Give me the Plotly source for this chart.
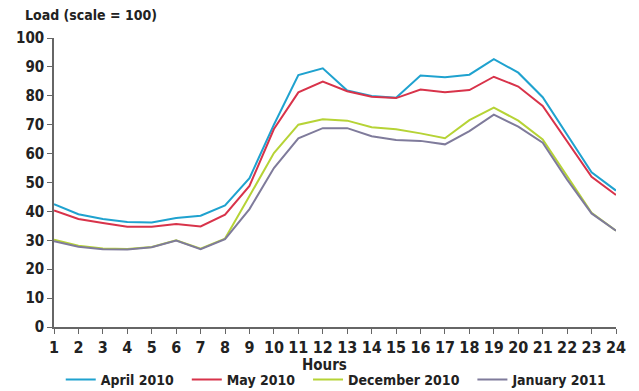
import plotly.graph_objects as go

hours = list(range(1, 25))
april_2010 = [42.5, 39, 37.4, 36.3, 36.2, 37.7, 38.5, 42.1, 51.5, 70, 87.2, 89.5,
              81.8, 79.9, 79.3, 87, 86.4, 87.3, 92.7, 88, 79.5, 66.4, 53.5, 47.2]
may_2010 = [40.3, 37.4, 36, 34.7, 34.7, 35.6, 34.8, 38.9, 48.8, 68.5, 81.2, 84.9,
            81.6, 79.7, 79.2, 82.2, 81.2, 82, 86.6, 83.2, 76.5, 64.1, 52, 45.7]
december_2010 = [30.2, 28.1, 27.2, 27, 27.7, 30, 27.1, 30.6, 45.3, 60.2, 70, 71.9,
                 71.4, 69.1, 68.4, 67, 65.3, 71.6, 75.9, 71.4, 64.9, 52, 39.5, 33.3]
january_2011 = [29.7, 27.8, 26.9, 26.8, 27.6, 29.9, 26.9, 30.4, 40.8, 55, 65.3, 68.8,
                68.8, 66, 64.7, 64.4, 63.2, 67.8, 73.5, 69.3, 63.8, 51, 39.3, 33.3]

series = [
    ("April 2010", april_2010, "#1fa2cf"),
    ("May 2010", may_2010, "#d8334a"),
    ("December 2010", december_2010, "#b6d336"),
    ("January 2011", january_2011, "#7f7b9b"),
]

font_family = "DejaVu Sans Condensed, Liberation Sans Narrow, Arial Narrow, sans-serif"

fig = go.Figure()
for name, vals, color in series:
    fig.add_trace(go.Scatter(x=hours, y=vals, mode="lines",
                             name=f"<b>{name}</b>\u00a0\u00a0",
                             line=dict(color=color, width=2)))

# page has an 8px body margin, so the figure is offset by 8px
fig.update_layout(
    width=631, height=383,
    margin=dict(l=46, r=23, t=30, b=64, autoexpand=False),
    paper_bgcolor="white", plot_bgcolor="white",
    font=dict(family=font_family, size=15, color="#222222"),
    showlegend=True,
    legend=dict(orientation="h", x=0.012, xanchor="left", y=-0.183, yanchor="middle",
                font=dict(size=14, color="#222222"),
                tracegroupgap=0, bgcolor="rgba(0,0,0,0)"),
    annotations=[
        dict(text="<b>Load (scale = 100)</b>", xref="paper", yref="paper",
             x=-0.056, y=1.08, xanchor="left", yanchor="middle",
             showarrow=False, font=dict(size=14, color="#222222")),
        dict(text="<b>Hours</b>", xref="paper", yref="paper",
             x=0.482, y=-0.093, xanchor="center", yanchor="top",
             showarrow=False, font=dict(size=15, color="#222222")),
    ],
)

fig.update_xaxes(
    range=[1, 24], tickmode="array", tickvals=hours,
    ticktext=[f"<b>{h}</b>" for h in hours],
    tickfont=dict(size=16),
    showgrid=False, zeroline=False, showline=True, linecolor="#666666", linewidth=1.5,
    ticks="outside", ticklen=5, tickcolor="#666666", tickangle=0,
)
fig.update_yaxes(
    range=[0, 100], tickmode="array", tickvals=list(range(0, 101, 10)),
    ticktext=[f"<b>{v}</b>" for v in range(0, 101, 10)],
    tickfont=dict(size=15),
    showgrid=False, zeroline=False, showline=True, linecolor="#666666", linewidth=1.5,
    ticks="outside", ticklen=5, tickcolor="#666666",
)

fig.write_html("out.html")
